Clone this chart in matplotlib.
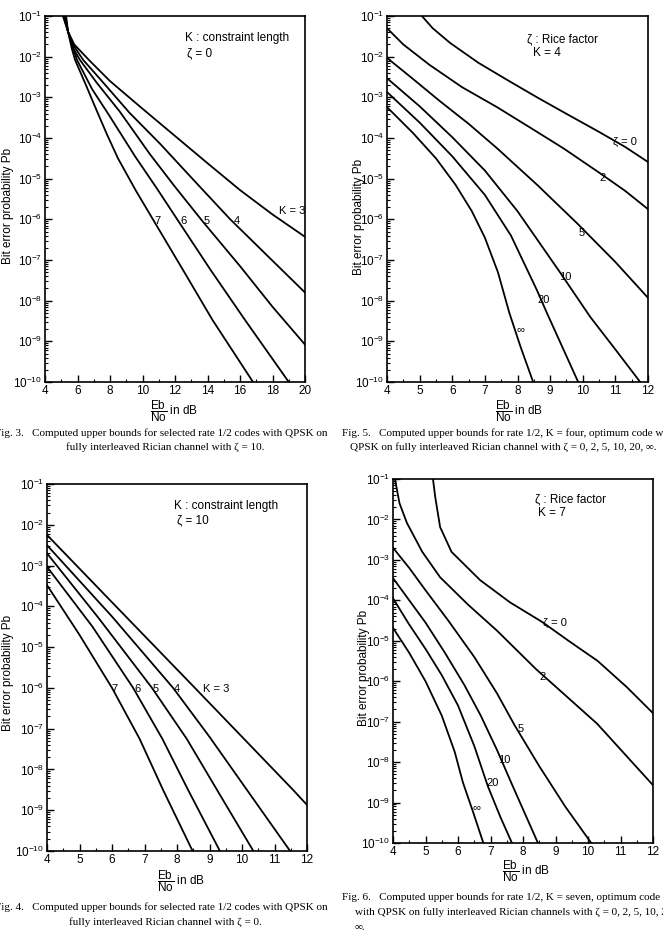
import numpy as np
from matplotlib import pyplot as plt
from matplotlib.ticker import MultipleLocator, LogLocator, NullFormatter

plt.rcParams['font.family'] = ['Liberation Sans', 'DejaVu Sans']
plt.rcParams['mathtext.fontset'] = 'custom'
plt.rcParams['mathtext.rm'] = 'Liberation Sans'
plt.rcParams['mathtext.it'] = 'Liberation Sans:italic'
plt.rcParams['mathtext.bf'] = 'Liberation Sans:bold'

W, H = 663, 946

# ---- Fig. 3 (top left): Eb/No in dB, log10 of Pb, one list pair per K
f3_k3_db = [5.3, 5.42, 5.8, 6.7, 8.0, 10.0, 12.0, 14.0, 16.0, 18.0, 20.0]
f3_k3_exp = [-1, -1.39, -1.7, -2.08, -2.6, -3.28, -3.95, -4.62, -5.28, -5.88, -6.43]
f3_k4_db = [5.25, 5.42, 5.8, 6.35, 7.5, 9.2, 11.1, 13.3, 15.4, 17.7, 20.0]
f3_k4_exp = [-1, -1.39, -1.75, -2.08, -2.6, -3.38, -4.15, -5.1, -6.0, -6.9, -7.8]
f3_k5_db = [5.2, 5.42, 5.75, 6.15, 7.2, 8.6, 10.46, 12.0, 13.7, 16.0, 18.0, 20.0]
f3_k5_exp = [-1, -1.39, -1.8, -2.08, -2.65, -3.35, -4.4, -5.2, -6.05, -7.15, -8.15, -9.08]
f3_k6_db = [5.15, 5.42, 5.7, 5.97, 6.9, 7.88, 9.54, 10.9, 12.2, 14.2, 16.3, 19.0]
f3_k6_exp = [-1, -1.39, -1.75, -2.08, -2.8, -3.4, -4.45, -5.25, -6.04, -7.25, -8.47, -10]
f3_k7_db = [5.1, 5.42, 5.65, 5.85, 6.5, 7.1, 7.8, 8.49, 9.6, 10.7, 12.5, 14.3, 16.8]
f3_k7_exp = [-1, -1.39, -1.8, -2.08, -2.68, -3.25, -3.9, -4.5, -5.3, -6.04, -7.25, -8.47, -10]
f3_labels = ['K = 3', '4', '5', '6', '7']
f3_label_db = [19.2, 15.8, 13.97, 12.5, 10.9]
f3_label_exp = [-5.8, -6.04, -6.04, -6.04, -6.04]

# ---- Fig. 5 (top right): K = 4, one list pair per Rice factor
f5_z0_db = [5.07, 5.4, 5.93, 6.8, 7.68, 8.6, 9.6, 10.5, 11.3, 12.0]
f5_z0_exp = [-1, -1.3, -1.66, -2.15, -2.57, -3.0, -3.45, -3.85, -4.22, -4.59]
f5_z2_db = [4.0, 4.5, 5.3, 6.3, 7.37, 8.4, 9.4, 10.5, 11.3, 12.0]
f5_z2_exp = [-1.3, -1.7, -2.2, -2.75, -3.24, -3.75, -4.25, -4.85, -5.3, -5.75]
f5_z5_db = [4.0, 4.8, 5.6, 6.5, 7.37, 8.6, 9.83, 11.0, 12.0]
f5_z5_exp = [-2.03, -2.55, -3.08, -3.65, -4.25, -5.15, -6.1, -7.05, -7.93]
f5_z10_db = [4.0, 5.0, 6.0, 7.0, 8.0, 9.3, 10.23, 11.0, 11.76]
f5_z10_exp = [-2.53, -3.22, -3.98, -4.8, -5.8, -7.3, -8.4, -9.2, -10]
f5_z20_db = [4.0, 5.0, 6.0, 7.0, 7.8, 8.6, 8.9, 9.86]
f5_z20_exp = [-2.87, -3.62, -4.45, -5.4, -6.4, -7.75, -8.3, -10]
f5_zinf_db = [4.0, 4.8, 5.5, 6.1, 6.6, 7.0, 7.4, 7.75, 8.1, 8.48]
f5_zinf_exp = [-3.24, -3.88, -4.5, -5.15, -5.8, -6.45, -7.3, -8.3, -9.15, -10]
f5_labels = ['ζ = 0', '2', '5', '10', '20', '∞']
f5_label_db = [11.3, 10.6, 9.98, 9.46, 8.79, 8.08]
f5_label_exp = [-4.1, -4.98, -6.33, -7.41, -7.98, -8.69]

# ---- Fig. 4 (bottom left): K = 3..7
f4_k3_db = [4.0, 6.0, 8.55, 10.0, 11.57, 12.0]
f4_k3_exp = [-2.25, -3.9, -6.0, -7.2, -8.5, -8.87]
f4_k4_db = [4.0, 6.0, 7.88, 9.0, 10.15, 11.48]
f4_k4_exp = [-2.5, -4.25, -6.0, -7.2, -8.5, -10]
f4_k5_db = [4.0, 5.6, 7.23, 8.3, 9.23, 10.35]
f4_k5_exp = [-2.7, -4.3, -6.0, -7.25, -8.5, -10]
f4_k6_db = [4.0, 5.4, 6.65, 7.55, 8.34, 9.32]
f4_k6_exp = [-3.03, -4.5, -6.0, -7.25, -8.5, -10]
f4_k7_db = [4.0, 5.0, 6.0, 6.85, 7.57, 8.48]
f4_k7_exp = [-3.48, -4.7, -6.0, -7.25, -8.5, -10]
f4_labels = ['K = 3', '4', '5', '6', '7']
f4_label_db = [9.2, 8.0, 7.35, 6.77, 6.09]
f4_label_exp = [-6.02, -6.02, -6.02, -6.02, -6.02]

# ---- Fig. 6 (bottom right): K = 7
f6_z0_db = [5.23, 5.3, 5.45, 5.8, 6.68, 7.6, 8.6, 9.4, 10.3, 11.2, 12.0]
f6_z0_exp = [-1, -1.45, -2.19, -2.8, -3.5, -4.05, -4.54, -5.0, -5.5, -6.15, -6.79]
f6_z2_db = [4.06, 4.2, 4.43, 4.9, 5.45, 6.3, 7.2, 8.4, 10.28, 12.0]
f6_z2_exp = [-1, -1.6, -2.09, -2.8, -3.43, -4.1, -4.75, -5.7, -7.05, -8.57]
f6_z5_db = [4.0, 4.5, 5.0, 5.7, 6.5, 7.2, 7.75, 8.5, 9.3, 10.1]
f6_z5_exp = [-2.7, -3.2, -3.75, -4.5, -5.4, -6.3, -7.1, -8.1, -9.1, -10]
f6_z10_db = [4.0, 4.5, 5.0, 5.6, 6.2, 6.7, 7.2, 7.66, 8.46]
f6_z10_exp = [-3.45, -4.0, -4.55, -5.3, -6.1, -6.85, -7.7, -8.55, -10]
f6_z20_db = [4.0, 4.5, 5.0, 5.5, 6.0, 6.5, 6.92, 7.3, 7.66]
f6_z20_exp = [-3.95, -4.6, -5.2, -5.85, -6.6, -7.6, -8.6, -9.35, -10]
f6_zinf_db = [4.0, 4.5, 5.0, 5.5, 5.9, 6.15, 6.45, 6.78]
f6_zinf_exp = [-4.68, -5.3, -6.0, -6.85, -7.75, -8.5, -9.2, -10]
f6_labels = ['ζ = 0', '2', '5', '10', '20', '∞']
f6_label_db = [8.97, 8.6, 7.94, 7.42, 7.08, 6.58]
f6_label_exp = [-4.56, -5.9, -7.19, -7.96, -8.52, -9.12]


def px_rect(x0, y0, x1, y1):
    # pixel box (from top left) -> figure fraction rect
    return [x0 / W, 1 - y1 / H, (x1 - x0) / W, (y1 - y0) / H]


def ftext(x, y, s, **kw):
    fig.text(x / W, 1 - y / H, s, **kw)


def setup_axes(ax, xmax, xmajor, xminor, label_x, label_y):
    ax.set_yscale('log')
    ax.set_xlim(4, xmax)
    ax.set_ylim(1e-10, 1e-1)
    ax.xaxis.set_major_locator(MultipleLocator(xmajor))
    ax.xaxis.set_minor_locator(MultipleLocator(xminor))
    ax.yaxis.set_major_locator(LogLocator(base=10, numticks=20))
    ax.yaxis.set_minor_locator(LogLocator(base=10, subs=np.arange(2, 10), numticks=20))
    ax.yaxis.set_minor_formatter(NullFormatter())
    ax.tick_params(which='both', direction='in', top=False, right=False,
                   labelsize=8.5, pad=2)
    ax.tick_params(which='major', length=5, width=1)
    ax.tick_params(which='minor', length=2.5, width=0.8)
    for sp in ax.spines.values():
        sp.set_linewidth(1.2)
    ax.set_ylabel('Bit error probability Pb', fontsize=8.5)
    # x is the right edge of the rotated label
    ax.yaxis.set_label_coords(label_x, label_y)


def draw_curves(ax, curves, labels, label_db, label_exp):
    for db, ex in curves:
        ax.plot(db, 10 ** np.array(ex), color='black', lw=1.3)
    for s, x, e in zip(labels, label_db, label_exp):
        ax.text(x, 10 ** e, s, ha='center', va='center', fontsize=8)


fig = plt.figure(figsize=(W / 100, H / 100), dpi=100)

# Fig. 3
ax3 = fig.add_axes(px_rect(45, 16, 305, 382))
setup_axes(ax3, 20, 2, 1, -0.12, 0.48)
draw_curves(ax3, [(f3_k3_db, f3_k3_exp), (f3_k4_db, f3_k4_exp), (f3_k5_db, f3_k5_exp),
                  (f3_k6_db, f3_k6_exp), (f3_k7_db, f3_k7_exp)],
            f3_labels, f3_label_db, f3_label_exp)
ax3.text(0.54, 0.94, 'K : constraint length', transform=ax3.transAxes, fontsize=8.5, va='center')
ax3.text(0.545, 0.899, 'ζ = 0', transform=ax3.transAxes, fontsize=8.5, va='center')

# Fig. 5
ax5 = fig.add_axes(px_rect(387, 16, 648, 382))
setup_axes(ax5, 12, 1, 0.5, -0.084, 0.45)
draw_curves(ax5, [(f5_z0_db, f5_z0_exp), (f5_z2_db, f5_z2_exp), (f5_z5_db, f5_z5_exp),
                  (f5_z10_db, f5_z10_exp), (f5_z20_db, f5_z20_exp), (f5_zinf_db, f5_zinf_exp)],
            f5_labels, f5_label_db, f5_label_exp)
ax5.text(0.536, 0.937, 'ζ : Rice factor', transform=ax5.transAxes, fontsize=8.5, va='center')
ax5.text(0.56, 0.899, 'K = 4', transform=ax5.transAxes, fontsize=8.5, va='center')

# Fig. 4
ax4 = fig.add_axes(px_rect(47, 484, 307, 851))
setup_axes(ax4, 12, 1, 0.5, -0.127, 0.485)
draw_curves(ax4, [(f4_k3_db, f4_k3_exp), (f4_k4_db, f4_k4_exp), (f4_k5_db, f4_k5_exp),
                  (f4_k6_db, f4_k6_exp), (f4_k7_db, f4_k7_exp)],
            f4_labels, f4_label_db, f4_label_exp)
ax4.text(0.49, 0.94, 'K : constraint length', transform=ax4.transAxes, fontsize=8.5, va='center')
ax4.text(0.5, 0.90, 'ζ = 10', transform=ax4.transAxes, fontsize=8.5, va='center')

# Fig. 6
ax6 = fig.add_axes(px_rect(393, 479, 653, 843))
setup_axes(ax6, 12, 1, 0.5, -0.088, 0.48)
draw_curves(ax6, [(f6_z0_db, f6_z0_exp), (f6_z2_db, f6_z2_exp), (f6_z5_db, f6_z5_exp),
                  (f6_z10_db, f6_z10_exp), (f6_z20_db, f6_z20_exp), (f6_zinf_db, f6_zinf_exp)],
            f6_labels, f6_label_db, f6_label_exp)
ax6.text(0.546, 0.945, 'ζ : Rice factor', transform=ax6.transAxes, fontsize=8.5, va='center')
ax6.text(0.558, 0.907, 'K = 7', transform=ax6.transAxes, fontsize=8.5, va='center')

# x labels (Eb over No)
xlab = r'$\dfrac{\mathrm{Eb}}{\mathrm{No}}$ in dB'
ftext(174, 411, xlab, ha='center', va='center', fontsize=8.5)
ftext(519, 411, xlab, ha='center', va='center', fontsize=8.5)
ftext(181, 881, xlab, ha='center', va='center', fontsize=8.5)
ftext(526, 871, xlab, ha='center', va='center', fontsize=8.5)

# captions
cap = dict(family=['Liberation Serif', 'DejaVu Serif'], fontsize=8.0, va='center')
ftext(-5, 433, 'Fig. 3.   Computed upper bounds for selected rate 1/2 codes with QPSK on', **cap)
ftext(165, 447, 'fully interleaved Rician channel with ζ = 10.', ha='center', **cap)
ftext(342, 433, 'Fig. 5.   Computed upper bounds for rate 1/2, K = four, optimum code with', **cap)
ftext(350, 447, 'QPSK on fully interleaved Rician channel with ζ = 0, 2, 5, 10, 20, ∞.', **cap)
ftext(-5, 907, 'Fig. 4.   Computed upper bounds for selected rate 1/2 codes with QPSK on', **cap)
ftext(165, 922, 'fully interleaved Rician channel with ζ = 0.', ha='center', **cap)
ftext(342, 897, 'Fig. 6.   Computed upper bounds for rate 1/2, K = seven, optimum code', **cap)
ftext(355, 912, 'with QPSK on fully interleaved Rician channels with ζ = 0, 2, 5, 10, 20,', **cap)
ftext(355, 927, '∞.', **cap)

plt.savefig('out.png', dpi=100)
